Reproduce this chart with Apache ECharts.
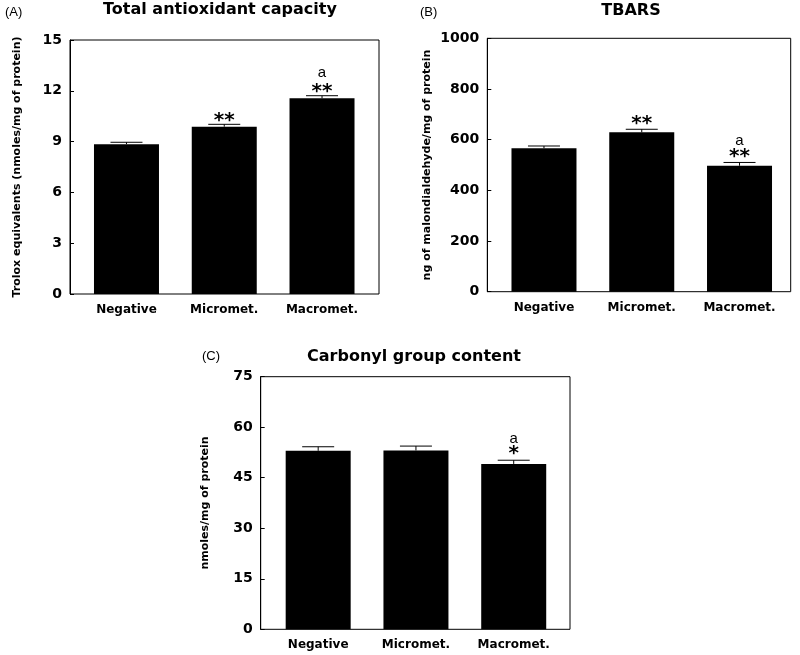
<!DOCTYPE html>
<html>
<head>
<meta charset="utf-8">
<script src="https://cdn.jsdelivr.net/npm/echarts@6/dist/echarts.min.js"></script>
<style>html,body{margin:0;padding:0;background:#fff;}#c{width:800px;height:655px;}</style>
</head>
<body>
<div id="c"></div>
<script>
// ---- data ----
const categories = ['Negative', 'Micromet.', 'Macromet.'];

const tacMeans = [8.85, 9.88, 11.56];
const tacErrors = [0.11, 0.14, 0.15];
const tacStars = ['', '**', '**'];
const tacLetters = ['', '', 'a'];
const tacTicks = { min: 0, max: 15, interval: 3 };

const tbarsMeans = [566, 629, 497];
const tbarsErrors = [9, 12, 13];
const tbarsStars = ['', '**', '**'];
const tbarsLetters = ['', '', 'a'];
const tbarsTicks = { min: 0, max: 1000, interval: 200 };

const carbonylMeans = [53.0, 53.1, 49.1];
const carbonylErrors = [1.2, 1.3, 1.1];
const carbonylStars = ['', '', '*'];
const carbonylLetters = ['', '', 'a'];
const carbonylTicks = { min: 0, max: 75, interval: 15 };

// ---- layout ----
const panels = [
  { frame: { left: 70, top: 40, width: 309, height: 254 }, barsLeft: 77.6,
    means: tacMeans, errors: tacErrors, stars: tacStars, letters: tacLetters, ticks: tacTicks,
    yName: 'Trolox equivalents (nmoles/mg of protein)', nameGap: 47, starGap: 7.5, letterGap: 22.5,
    title: 'Total antioxidant capacity', titleX: 220, titleY: 10, tag: '(A)', tagX: 5, tagY: 12 },
  { frame: { left: 487.3, top: 38.3, width: 303.4, height: 253.4 }, barsLeft: 495.1,
    means: tbarsMeans, errors: tbarsErrors, stars: tbarsStars, letters: tbarsLetters, ticks: tbarsTicks,
    yName: 'ng of malondialdehyde/mg of protein', nameGap: 55, starGap: 9, letterGap: 22,
    title: 'TBARS', titleX: 631, titleY: 11, tag: '(B)', tagX: 420, tagY: 12 },
  { frame: { left: 260.7, top: 376.7, width: 309.3, height: 252.6 }, barsLeft: 269.3,
    means: carbonylMeans, errors: carbonylErrors, stars: carbonylStars, letters: carbonylLetters, ticks: carbonylTicks,
    yName: 'nmoles/mg of protein', nameGap: 50, starGap: 10, letterGap: 21,
    title: 'Carbonyl group content', titleX: 414, titleY: 357, tag: '(C)', tagX: 202, tagY: 356 }
];

const BOLD = 'DejaVu Sans';
const grid = [], xAxis = [], yAxis = [], series = [], graphic = [];

panels.forEach((p, k) => {
  const gi = grid.length;
  // frame grid
  grid.push({ left: p.frame.left, top: p.frame.top, width: p.frame.width, height: p.frame.height,
    show: true, borderColor: '#000', borderWidth: 1, backgroundColor: 'transparent' });
  // bars grid
  grid.push({ left: p.barsLeft, top: p.frame.top, width: 293.3, height: p.frame.height });

  xAxis.push({ gridIndex: gi, type: 'value', show: false, min: 0, max: 1 });
  xAxis.push({ gridIndex: gi + 1, type: 'category', data: categories,
    axisLine: { show: false }, axisTick: { show: false },
    axisLabel: { color: '#000', fontFamily: BOLD, fontWeight: 'bold', fontSize: 12, margin: 10 } });

  yAxis.push({ gridIndex: gi, type: 'value', min: p.ticks.min, max: p.ticks.max, interval: p.ticks.interval,
    axisLine: { show: true, lineStyle: { color: '#000', width: 1 } },
    axisTick: { show: true, inside: true, length: 4, lineStyle: { color: '#000' } },
    splitLine: { show: false },
    axisLabel: { color: '#000', fontFamily: BOLD, fontWeight: 'bold', fontSize: 14, margin: 8,
      formatter: v => String(v) },
    name: p.yName, nameLocation: 'middle', nameRotate: 90, nameGap: p.nameGap,
    nameTextStyle: { color: '#000', fontFamily: BOLD, fontWeight: 'bold', fontSize: 11 } });
  yAxis.push({ gridIndex: gi + 1, type: 'value', min: p.ticks.min, max: p.ticks.max, interval: p.ticks.interval, show: false });

  const xi = gi + 1, yi = gi + 1;
  series.push({ type: 'bar', xAxisIndex: xi, yAxisIndex: yi, data: p.means, barWidth: 65,
    itemStyle: { color: '#000' }, animation: false, silent: true });
  series.push({ type: 'custom', xAxisIndex: xi, yAxisIndex: yi, z: 5, animation: false, silent: true,
    data: p.means.map((m, i) => [i, m, m + p.errors[i]]),
    renderItem: function (params, api) {
      const i = params.dataIndex;
      const base = api.coord([api.value(0), api.value(1)]);
      const top = api.coord([api.value(0), api.value(2)]);
      const x = base[0];
      const children = [
        { type: 'line', shape: { x1: x, y1: base[1], x2: x, y2: top[1] }, style: { stroke: '#000', lineWidth: 1 } },
        { type: 'line', shape: { x1: x - 16, y1: top[1], x2: x + 16, y2: top[1] }, style: { stroke: '#000', lineWidth: 1 } }
      ];
      if (p.stars[i]) {
        children.push({ type: 'text', style: { text: p.stars[i], x: x, y: top[1] - p.starGap + 3.5, align: 'center', verticalAlign: 'middle',
          font: 'bold 20px "DejaVu Sans"', fill: '#000' } });
      }
      if (p.letters[i]) {
        children.push({ type: 'text', style: { text: p.letters[i], x: x, y: top[1] - p.letterGap, align: 'center', verticalAlign: 'middle',
          font: '15px "Liberation Sans"', fill: '#000' } });
      }
      return { type: 'group', children: children };
    }
  });

  graphic.push({ type: 'text', x: p.titleX, y: p.titleY,
    style: { text: p.title, align: 'center', verticalAlign: 'middle', font: 'bold 16px "DejaVu Sans"', fill: '#000' } });
  graphic.push({ type: 'text', x: p.tagX, y: p.tagY,
    style: { text: p.tag, align: 'left', verticalAlign: 'middle', font: '13px "Liberation Sans"', fill: '#000' } });
});

const chart = echarts.init(document.getElementById('c'), null, { renderer: 'canvas' });
chart.setOption({ animation: false, backgroundColor: '#fff', grid, xAxis, yAxis, series, graphic });
</script>
</body>
</html>
